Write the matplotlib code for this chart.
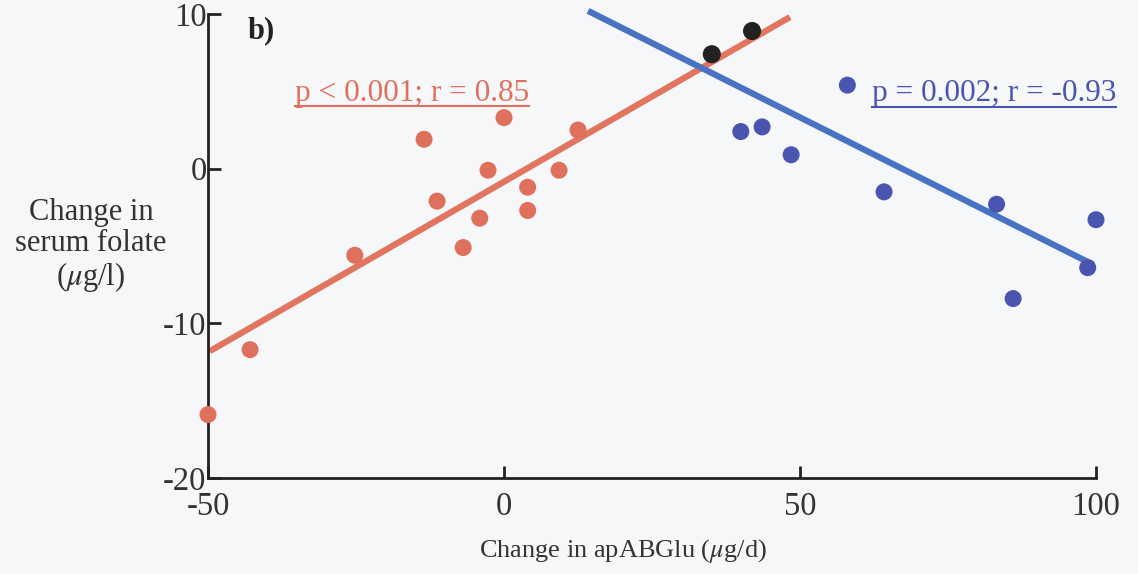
import matplotlib
matplotlib.use("Agg")
import matplotlib.pyplot as plt
from matplotlib.lines import Line2D

plt.rcParams['font.family'] = ['Liberation Serif', 'DejaVu Serif']
plt.rcParams['mathtext.fontset'] = 'stix'
plt.rcParams['axes.unicode_minus'] = False

# --- data ---
red_x = [-50, -42.9, -25.2, -13.5, -11.3, -6.9, -4.1, -2.7, 0.0, 4.0, 4.0, 9.3, 12.5]
red_y = [-15.9, -11.7, -5.6, 1.9, -2.1, -5.1, -3.2, -0.1, 3.3, -1.2, -2.7, -0.1, 2.5]
black_x = [35.1, 41.9]
black_y = [7.4, 8.9]
blue_x = [40.0, 43.6, 48.5, 58.0, 64.2, 83.2, 86.0, 98.6, 100.0]
blue_y = [2.4, 2.7, 0.9, 5.4, -1.5, -2.3, -8.4, -6.4, -3.3]
red_fit_x = [-49.7, 48.3]
red_fit_y = [-11.8, 9.8]
blue_fit_x = [14.2, 99.5]
blue_fit_y = [10.2, -6.2]
xticks = [-50, 0, 50, 100]
yticks = [-20, -10, 0, 10]
red_label = "p < 0.001; r = 0.85"
blue_label = "p = 0.002; r = -0.93"

bg = '#f6f7f9'
red = '#e0705e'
red_line = '#e2755f'
blue = '#4a55b0'
blue_line = '#4a72c4'

fig = plt.figure(figsize=(11.38, 5.74), dpi=100, facecolor=bg)
ax = fig.add_axes([208 / 1138, (574 - 478) / 574, 888 / 1138, 464 / 574])
ax.set_facecolor(bg)

ax.plot(red_fit_x, red_fit_y, color=red_line, lw=4.5, solid_capstyle='butt', clip_on=False, zorder=2)
ax.plot(blue_fit_x, blue_fit_y, color=blue_line, lw=4.5, solid_capstyle='butt', clip_on=False, zorder=2)
ax.scatter(red_x, red_y, s=150, color=red, edgecolors='none', clip_on=False, zorder=3)
ax.scatter(blue_x, blue_y, s=150, color=blue, edgecolors='none', clip_on=False, zorder=3)
ax.scatter(black_x, black_y, s=170, color='#222222', edgecolors='none', clip_on=False, zorder=4)

ax.set_xlim(-50, 100)
ax.set_ylim(-20, 10)
ax.set_xticks(xticks)
ax.set_yticks(yticks)
for s in ['top', 'right']:
    ax.spines[s].set_visible(False)
for s in ['left', 'bottom']:
    ax.spines[s].set_linewidth(2)
    ax.spines[s].set_color('#222222')
ax.tick_params(axis='both', direction='in', length=9, width=2, colors='#222222',
               labelsize=23.5, labelcolor='#333333')
ax.tick_params(axis='x', pad=10)
ax.tick_params(axis='y', pad=1)

fig.text(248 / 1138, 1 - 31 / 574, 'b)', fontsize=22, fontweight='bold', va='center', ha='left', color='#222222')

fig.text(91 / 1138, 1 - 246 / 574, 'Change in\nserum folate\n($\\mu$g/l)', fontsize=22,
         ha='center', va='center', multialignment='center', linespacing=1.1, color='#333333')
fig.text(623 / 1138, 1 - 551 / 574, 'Change in apABGlu ($\\mu$g/d)', fontsize=19,
         ha='center', va='center', color='#333333')

t1 = fig.text(295 / 1138, 1 - 94 / 574, red_label, fontsize=22.5, ha='left', va='center', color=red)
t2 = fig.text(872 / 1138, 1 - 94 / 574, blue_label, fontsize=22.5, ha='left', va='center', color=blue)

fig.canvas.draw()
r = fig.canvas.get_renderer()
for t, c, yu in [(t1, red, 106), (t2, blue, 107)]:
    bb = t.get_window_extent(r)
    y = (574 - yu) / 574
    fig.add_artist(Line2D([bb.x0 / 1138, bb.x1 / 1138], [y, y], transform=fig.transFigure,
                          color=c, lw=1.5))

fig.savefig('out.png', dpi=100, facecolor=bg)
